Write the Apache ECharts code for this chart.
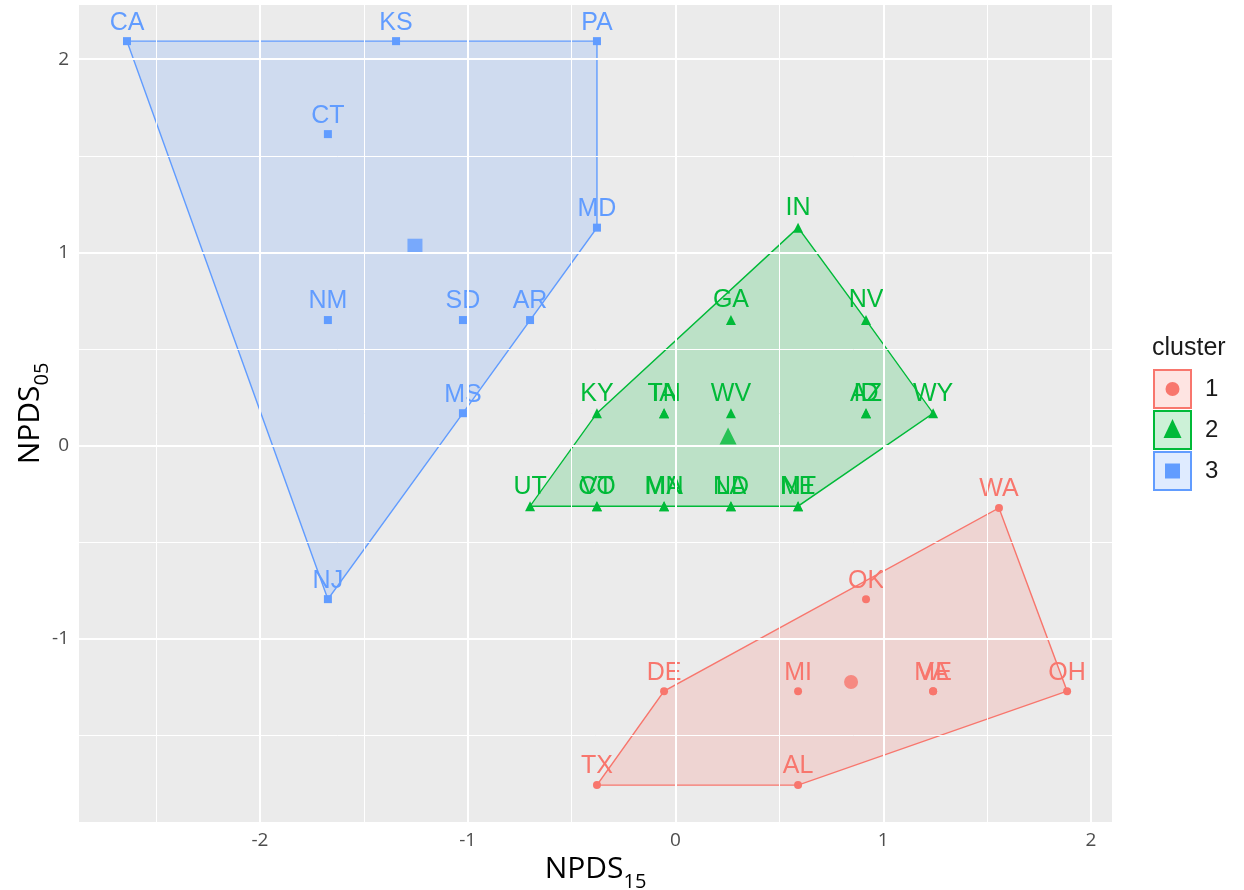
<!DOCTYPE html>
<html>
<head>
<meta charset="utf-8">
<script src="https://cdn.jsdelivr.net/npm/echarts@6/dist/echarts.min.js"></script>
<style>html,body{margin:0;padding:0;background:#fff}#c{width:1244px;height:890px}</style>
</head>
<body>
<div id="c"></div>
<script>
// ---- data ----
const c1Names = ['WA','OK','DE','MI','VA','ME','OH','TX','AL'];
const c1X = [1.557, 0.917, -0.055, 0.590, 1.240, 1.240, 1.885, -0.378, 0.590];
const c1Y = [-0.322, -0.794, -1.270, -1.270, -1.270, -1.270, -1.270, -1.756, -1.756];
const c1Centroid = [0.845, -1.223];

const c2Names = ['IN','GA','NV','KY','TN','IA','WV','AZ','ID','WY','UT','CO','VT','MN','MA','ND','LA','NE','MT'];
const c2X = [0.590, 0.267, 0.917, -0.378, -0.055, -0.055, 0.267, 0.917, 0.917, 1.240, -0.700, -0.378, -0.378, -0.055, -0.055, 0.267, 0.267, 0.590, 0.590];
const c2Y = [1.128, 0.650, 0.650, 0.168, 0.168, 0.168, 0.168, 0.168, 0.168, 0.168, -0.313, -0.313, -0.313, -0.313, -0.313, -0.313, -0.313, -0.313, -0.313];
const c2Centroid = [0.253, 0.050];

const c3Names = ['CA','KS','PA','CT','MD','NM','SD','AR','MS','NJ'];
const c3X = [-2.640, -1.345, -0.378, -1.673, -0.378, -1.673, -1.023, -0.700, -1.023, -1.673];
const c3Y = [2.093, 2.093, 2.093, 1.612, 1.128, 0.650, 0.650, 0.650, 0.168, -0.794];
const c3Centroid = [-1.254, 1.032];

const clusterLabels = ['1','2','3'];
const xTicks = [-2, -1, 0, 1, 2];
const yTicks = [-1, 0, 1, 2];
const xMinor = [-2.5, -1.5, -0.5, 0.5, 1.5];
const yMinor = [-1.5, -0.5, 0.5, 1.5];
const xRange = [-2.871, 2.101];
const yRange = [-1.947, 2.28];

// ---- styling ----
const colors = ['#F8766D', '#00BA38', '#619CFF'];
const fills = ['rgba(248,118,109,0.2)', 'rgba(0,186,56,0.2)', 'rgba(97,156,255,0.2)'];
const symbols = ['circle', 'triangle', 'rect'];
const pointSizes = [8, 10, 8];
const centroidSizes = [14, 17, 15];
const labelFont = '"Liberation Sans", Arial, sans-serif';
const axisFont = '"Open Sans", "Noto Sans", sans-serif';

function hull(pts) {
  const p = pts.slice().sort((a, b) => a[0] - b[0] || a[1] - b[1]);
  const cross = (o, a, b) => (a[0]-o[0])*(b[1]-o[1]) - (a[1]-o[1])*(b[0]-o[0]);
  const lower = [], upper = [];
  for (const q of p) { while (lower.length >= 2 && cross(lower[lower.length-2], lower[lower.length-1], q) <= 0) lower.pop(); lower.push(q); }
  for (let i = p.length - 1; i >= 0; i--) { const q = p[i]; while (upper.length >= 2 && cross(upper[upper.length-2], upper[upper.length-1], q) <= 0) upper.pop(); upper.push(q); }
  upper.pop(); lower.pop();
  return lower.concat(upper);
}

const clusters = [
  {names: c1Names, x: c1X, y: c1Y, cen: c1Centroid},
  {names: c2Names, x: c2X, y: c2Y, cen: c2Centroid},
  {names: c3Names, x: c3X, y: c3Y, cen: c3Centroid}
];

const series = [];
const gridLine = (vals, key, w) => vals.map(v => ({[key]: v, lineStyle: {color: '#FFFFFF', width: w, type: 'solid'}}));
series.push({
  type: 'scatter', data: [], silent: true, z: 1,
  markLine: {
    silent: true, symbol: ['none', 'none'], animation: false, label: {show: false},
    data: [].concat(gridLine(xMinor, 'xAxis', 1), gridLine(yMinor, 'yAxis', 1),
                    gridLine(xTicks, 'xAxis', 2), gridLine(yTicks, 'yAxis', 2))
  }
});

clusters.forEach((c, k) => {
  const pts = c.x.map((v, i) => [v, c.y[i]]);
  const h = hull(pts);
  series.push({
    type: 'custom', z: 2, silent: true,
    data: h,
    renderItem: function (params, api) {
      if (params.dataIndex !== 0) return null;
      const poly = h.map(p => api.coord(p));
      return {
        type: 'polygon',
        shape: {points: poly},
        style: {fill: fills[k], stroke: colors[k], lineWidth: 1.4}
      };
    }
  });
  series.push({
    type: 'scatter', z: 3, name: clusterLabels[k],
    symbol: symbols[k], symbolSize: pointSizes[k],
    itemStyle: {color: colors[k], opacity: 1},
    data: pts.map((p, i) => ({value: p, name: c.names[i]})),
    label: {
      show: true, position: 'top', distance: 2,
      formatter: p => p.name,
      color: colors[k], fontSize: 25, fontFamily: labelFont
    },
    labelLayout: {hideOverlap: false}
  });
  series.push({
    type: 'scatter', z: 4,
    symbol: symbols[k], symbolSize: centroidSizes[k],
    itemStyle: {color: colors[k]},
    data: [c.cen]
  });
});

// legend drawn with graphic elements
const legendGraphics = [{
  type: 'text', left: 1152, top: 336,
  style: {text: 'cluster', fontSize: 25, fontFamily: labelFont, fill: '#1A1A1A'}
}];
clusterLabels.forEach((lab, k) => {
  const top = 369 + k * 41;
  legendGraphics.push({
    type: 'rect', shape: {x: 1154, y: top + 1, width: 37, height: 38},
    style: {fill: fills[k], stroke: colors[k], lineWidth: 2}
  });
  const cx = 1172.5, cy = top + 20;
  let sym;
  if (k === 0) sym = {type: 'circle', shape: {cx: cx, cy: cy, r: 7}, style: {fill: colors[k]}};
  else if (k === 1) sym = {type: 'polygon', shape: {points: [[cx, cy - 11], [cx - 9, cy + 8], [cx + 9, cy + 8]]}, style: {fill: colors[k]}};
  else sym = {type: 'rect', shape: {x: cx - 7.5, y: cy - 7.5, width: 15, height: 15}, style: {fill: colors[k]}};
  legendGraphics.push(sym);
  legendGraphics.push({
    type: 'text', left: 1205, top: top + 8,
    style: {text: lab, fontSize: 24, fontFamily: labelFont, fill: '#1A1A1A'}
  });
});

const titleRich = {
  m: {fontSize: 30, fontFamily: axisFont, color: '#000', verticalAlign: 'bottom', lineHeight: 32, padding: [0, 0, 7, 0]},
  s: {fontSize: 20, fontFamily: axisFont, color: '#000', verticalAlign: 'bottom', lineHeight: 23}
};

const option = {
  animation: false,
  backgroundColor: '#FFFFFF',
  grid: {left: 79, right: 132, top: 5, bottom: 68, show: true, backgroundColor: '#EBEBEB', borderWidth: 0,
         containLabel: false, outerBoundsMode: 'none'},
  xAxis: {
    type: 'value', min: xRange[0], max: xRange[1],
    axisLine: {show: false},
    splitLine: {show: false},
    axisTick: {show: true, length: 4, customValues: xTicks, lineStyle: {color: '#333333', width: 1.5}},
    axisLabel: {customValues: xTicks, color: '#4D4D4D', fontSize: 19, fontFamily: axisFont, margin: 9},
    name: '{m|NPDS}{s|15}', nameLocation: 'middle', nameGap: 29,
    nameTextStyle: {rich: titleRich}
  },
  yAxis: {
    type: 'value', min: yRange[0], max: yRange[1],
    axisLine: {show: false},
    splitLine: {show: false},
    axisTick: {show: true, length: 4, customValues: yTicks, lineStyle: {color: '#333333', width: 1.5}},
    axisLabel: {customValues: yTicks, color: '#4D4D4D', fontSize: 19, fontFamily: axisFont, margin: 10},
    name: '{m|NPDS}{s|05}', nameLocation: 'middle', nameGap: 27, nameRotate: 90, nameMoveOverlap: false,
    nameTextStyle: {rich: titleRich}
  },
  graphic: legendGraphics,
  series: series
};

const chart = echarts.init(document.getElementById('c'), null, {renderer: 'canvas'});
chart.setOption(option);
</script>
</body>
</html>
